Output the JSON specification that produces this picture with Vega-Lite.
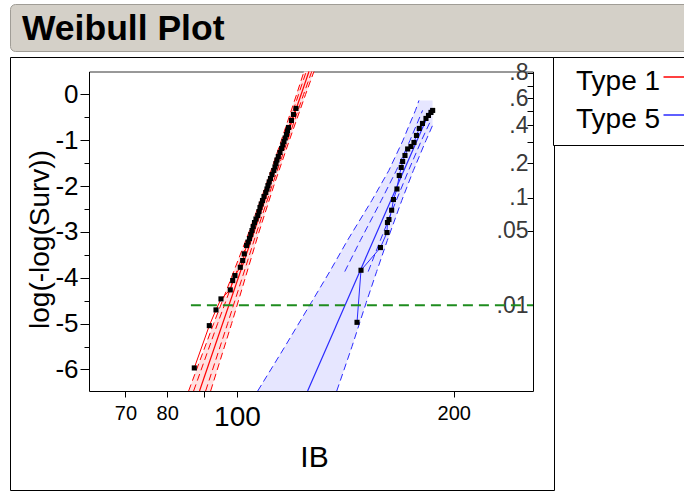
{
  "$schema": "https://vega.github.io/schema/vega-lite/v6.json",
  "padding": {"left": 9, "top": 3, "right": 0, "bottom": 0},
  "background": "white",
  "spacing": 6,
  "bounds": "flush",
  "resolve": {"legend": {"color": "independent"}},
  "datasets": {
    "pts": [
      {"type": "Type 1", "IB": 87.24, "v": -5.967}, {"type": "Type 1", "IB": 91.53, "v": -5.044},
      {"type": "Type 1", "IB": 93.51, "v": -4.701}, {"type": "Type 1", "IB": 95.01, "v": -4.461},
      {"type": "Type 1", "IB": 97.88, "v": -4.264}, {"type": "Type 1", "IB": 98.63, "v": -4.061},
      {"type": "Type 1", "IB": 99.36, "v": -3.952}, {"type": "Type 1", "IB": 101.06, "v": -3.771},
      {"type": "Type 1", "IB": 101.84, "v": -3.624}, {"type": "Type 1", "IB": 102.36, "v": -3.478},
      {"type": "Type 1", "IB": 103.12, "v": -3.297}, {"type": "Type 1", "IB": 103.58, "v": -3.221},
      {"type": "Type 1", "IB": 104.08, "v": -3.144}, {"type": "Type 1", "IB": 104.51, "v": -3.057},
      {"type": "Type 1", "IB": 104.92, "v": -2.969}, {"type": "Type 1", "IB": 105.32, "v": -2.882},
      {"type": "Type 1", "IB": 105.76, "v": -2.795}, {"type": "Type 1", "IB": 106.26, "v": -2.718},
      {"type": "Type 1", "IB": 106.88, "v": -2.642}, {"type": "Type 1", "IB": 107.29, "v": -2.555},
      {"type": "Type 1", "IB": 107.63, "v": -2.467}, {"type": "Type 1", "IB": 108.05, "v": -2.391},
      {"type": "Type 1", "IB": 108.5, "v": -2.314}, {"type": "Type 1", "IB": 109.02, "v": -2.227},
      {"type": "Type 1", "IB": 109.65, "v": -2.14}, {"type": "Type 1", "IB": 110.07, "v": -2.063},
      {"type": "Type 1", "IB": 110.42, "v": -1.987}, {"type": "Type 1", "IB": 110.85, "v": -1.91},
      {"type": "Type 1", "IB": 111.31, "v": -1.834}, {"type": "Type 1", "IB": 111.85, "v": -1.747},
      {"type": "Type 1", "IB": 112.49, "v": -1.659}, {"type": "Type 1", "IB": 112.92, "v": -1.583},
      {"type": "Type 1", "IB": 113.29, "v": -1.507}, {"type": "Type 1", "IB": 113.65, "v": -1.43},
      {"type": "Type 1", "IB": 114.12, "v": -1.354}, {"type": "Type 1", "IB": 114.74, "v": -1.266},
      {"type": "Type 1", "IB": 115.33, "v": -1.179}, {"type": "Type 1", "IB": 115.77, "v": -1.103},
      {"type": "Type 1", "IB": 116.22, "v": -1.026}, {"type": "Type 1", "IB": 116.67, "v": -0.95},
      {"type": "Type 1", "IB": 117.15, "v": -0.873}, {"type": "Type 1", "IB": 117.53, "v": -0.797},
      {"type": "Type 1", "IB": 117.9, "v": -0.721}, {"type": "Type 1", "IB": 119.04, "v": -0.568},
      {"type": "Type 1", "IB": 119.81, "v": -0.437}, {"type": "Type 1", "IB": 120.77, "v": -0.306},
      {"type": "Type 5", "IB": 146.79, "v": -4.972}, {"type": "Type 5", "IB": 148.68, "v": -3.836},
      {"type": "Type 5", "IB": 158.22, "v": -3.341}, {"type": "Type 5", "IB": 161.54, "v": -3.013},
      {"type": "Type 5", "IB": 161.8, "v": -2.795}, {"type": "Type 5", "IB": 162.58, "v": -2.729},
      {"type": "Type 5", "IB": 163.99, "v": -2.526}, {"type": "Type 5", "IB": 164.94, "v": -2.293},
      {"type": "Type 5", "IB": 166.79, "v": -2.063}, {"type": "Type 5", "IB": 168.02, "v": -1.769},
      {"type": "Type 5", "IB": 169.1, "v": -1.594}, {"type": "Type 5", "IB": 169.86, "v": -1.463},
      {"type": "Type 5", "IB": 171.12, "v": -1.332}, {"type": "Type 5", "IB": 172.6, "v": -1.19},
      {"type": "Type 5", "IB": 174.43, "v": -1.135}, {"type": "Type 5", "IB": 176.11, "v": -1.048},
      {"type": "Type 5", "IB": 177.53, "v": -0.895}, {"type": "Type 5", "IB": 179.13, "v": -0.742},
      {"type": "Type 5", "IB": 180.97, "v": -0.633}, {"type": "Type 5", "IB": 183.01, "v": -0.524},
      {"type": "Type 5", "IB": 184.48, "v": -0.459}, {"type": "Type 5", "IB": 185.96, "v": -0.393},
      {"type": "Type 5", "IB": 186.97, "v": -0.349}
    ],
    "fits": [
      {"type": "Type 1", "IB": 88.71, "v": -6.47}, {"type": "Type 1", "IB": 125.89, "v": 0.5},
      {"type": "Type 5", "IB": 125.35, "v": -6.47}, {"type": "Type 5", "IB": 185.96, "v": -0.306}
    ],
    "areas": [
      {"type": "Type 1", "v": -6.47, "lo": 85.67, "hi": 91.92},
      {"type": "Type 1", "v": -5, "lo": 92.8, "hi": 98.3},
      {"type": "Type 1", "v": -4, "lo": 98.21, "hi": 102.7},
      {"type": "Type 1", "v": -3, "lo": 103.92, "hi": 107.3},
      {"type": "Type 1", "v": -2, "lo": 109.62, "hi": 112.46},
      {"type": "Type 1", "v": -1, "lo": 115.26, "hi": 118.24},
      {"type": "Type 1", "v": 0, "lo": 121.0, "hi": 124.53},
      {"type": "Type 1", "v": 0.5, "lo": 123.9, "hi": 127.9},
      {"type": "Type 5", "v": -6.47, "lo": 106.85, "hi": 137.58},
      {"type": "Type 5", "v": -5.502, "lo": 116.56, "hi": 144.44},
      {"type": "Type 5", "v": -4.541, "lo": 126.81, "hi": 151.18},
      {"type": "Type 5", "v": -3.865, "lo": 134.53, "hi": 156.3},
      {"type": "Type 5", "v": -3.188, "lo": 142.33, "hi": 161.7},
      {"type": "Type 5", "v": -2.314, "lo": 153.9, "hi": 169.37},
      {"type": "Type 5", "v": -1.659, "lo": 162.53, "hi": 175.78},
      {"type": "Type 5", "v": -1.004, "lo": 170.02, "hi": 183.01},
      {"type": "Type 5", "v": -0.677, "lo": 173.38, "hi": 186.91},
      {"type": "Type 5", "v": -0.349, "lo": 176.96, "hi": 186.91},
      {"type": "Type 5", "v": -0.131, "lo": 178.95, "hi": 186.91}
    ],
    "bands": [
      {"type": "Type 1", "side": "olo", "IB": 85.67, "v": -6.47}, {"type": "Type 1", "side": "olo", "IB": 92.8, "v": -5},
      {"type": "Type 1", "side": "olo", "IB": 98.21, "v": -4}, {"type": "Type 1", "side": "olo", "IB": 103.92, "v": -3},
      {"type": "Type 1", "side": "olo", "IB": 109.62, "v": -2}, {"type": "Type 1", "side": "olo", "IB": 115.26, "v": -1},
      {"type": "Type 1", "side": "olo", "IB": 121.0, "v": 0}, {"type": "Type 1", "side": "olo", "IB": 123.9, "v": 0.5},
      {"type": "Type 1", "side": "ohi", "IB": 91.92, "v": -6.47}, {"type": "Type 1", "side": "ohi", "IB": 98.3, "v": -5},
      {"type": "Type 1", "side": "ohi", "IB": 102.7, "v": -4}, {"type": "Type 1", "side": "ohi", "IB": 107.3, "v": -3},
      {"type": "Type 1", "side": "ohi", "IB": 112.46, "v": -2}, {"type": "Type 1", "side": "ohi", "IB": 118.24, "v": -1},
      {"type": "Type 1", "side": "ohi", "IB": 124.53, "v": 0}, {"type": "Type 1", "side": "ohi", "IB": 127.9, "v": 0.5},
      {"type": "Type 1", "side": "ilo", "IB": 87.05, "v": -6.47}, {"type": "Type 1", "side": "ilo", "IB": 93.99, "v": -5},
      {"type": "Type 1", "side": "ilo", "IB": 99.18, "v": -4}, {"type": "Type 1", "side": "ilo", "IB": 104.67, "v": -3},
      {"type": "Type 1", "side": "ilo", "IB": 110.25, "v": -2}, {"type": "Type 1", "side": "ilo", "IB": 115.92, "v": -1},
      {"type": "Type 1", "side": "ilo", "IB": 121.77, "v": 0}, {"type": "Type 1", "side": "ilo", "IB": 124.8, "v": 0.5},
      {"type": "Type 1", "side": "ihi", "IB": 90.46, "v": -6.47}, {"type": "Type 1", "side": "ihi", "IB": 97.05, "v": -5},
      {"type": "Type 1", "side": "ihi", "IB": 101.69, "v": -4}, {"type": "Type 1", "side": "ihi", "IB": 106.53, "v": -3},
      {"type": "Type 1", "side": "ihi", "IB": 111.81, "v": -2}, {"type": "Type 1", "side": "ihi", "IB": 117.56, "v": -1},
      {"type": "Type 1", "side": "ihi", "IB": 123.74, "v": 0}, {"type": "Type 1", "side": "ihi", "IB": 127.0, "v": 0.5},
      {"type": "Type 5", "side": "olo", "IB": 106.85, "v": -6.47}, {"type": "Type 5", "side": "olo", "IB": 116.56, "v": -5.502},
      {"type": "Type 5", "side": "olo", "IB": 126.81, "v": -4.541}, {"type": "Type 5", "side": "olo", "IB": 134.53, "v": -3.865},
      {"type": "Type 5", "side": "olo", "IB": 142.33, "v": -3.188}, {"type": "Type 5", "side": "olo", "IB": 153.9, "v": -2.314},
      {"type": "Type 5", "side": "olo", "IB": 162.53, "v": -1.659}, {"type": "Type 5", "side": "olo", "IB": 170.02, "v": -1.004},
      {"type": "Type 5", "side": "olo", "IB": 173.38, "v": -0.677}, {"type": "Type 5", "side": "olo", "IB": 176.96, "v": -0.349},
      {"type": "Type 5", "side": "olo", "IB": 178.95, "v": -0.131},
      {"type": "Type 5", "side": "ohi", "IB": 137.58, "v": -6.47}, {"type": "Type 5", "side": "ohi", "IB": 144.44, "v": -5.502},
      {"type": "Type 5", "side": "ohi", "IB": 151.18, "v": -4.541}, {"type": "Type 5", "side": "ohi", "IB": 156.3, "v": -3.865},
      {"type": "Type 5", "side": "ohi", "IB": 161.7, "v": -3.188}, {"type": "Type 5", "side": "ohi", "IB": 169.37, "v": -2.314},
      {"type": "Type 5", "side": "ohi", "IB": 175.78, "v": -1.659}, {"type": "Type 5", "side": "ohi", "IB": 183.01, "v": -1.004},
      {"type": "Type 5", "side": "ohi", "IB": 186.91, "v": -0.677},
      {"type": "Type 5", "side": "ilo", "IB": 141.15, "v": -3.865},
      {"type": "Type 5", "side": "ilo", "IB": 148.34, "v": -3.188}, {"type": "Type 5", "side": "ilo", "IB": 158.62, "v": -2.314},
      {"type": "Type 5", "side": "ilo", "IB": 166.47, "v": -1.659}, {"type": "Type 5", "side": "ilo", "IB": 173.88, "v": -1.004},
      {"type": "Type 5", "side": "ilo", "IB": 181.03, "v": -0.349},
      {"type": "Type 5", "side": "ihi", "IB": 152.14, "v": -3.865},
      {"type": "Type 5", "side": "ihi", "IB": 158.12, "v": -3.188}, {"type": "Type 5", "side": "ihi", "IB": 166.42, "v": -2.314},
      {"type": "Type 5", "side": "ihi", "IB": 173.1, "v": -1.659}, {"type": "Type 5", "side": "ihi", "IB": 180.39, "v": -1.004},
      {"type": "Type 5", "side": "ihi", "IB": 185.84, "v": -0.568}
    ],
    "ref": [
      {"IB": 86.3, "v": -4.6}, {"IB": 257.7, "v": -4.6}
    ],
    "head": [{"t": "Weibull Plot"}]
  },
  "vconcat": [
    {
      "width": 690,
      "height": 47,
      "data": {"name": "head"},
      "view": {"fill": "#d4d0c8", "stroke": "#a09d96", "cornerRadius": 5},
      "mark": {"type": "text", "align": "left", "baseline": "middle", "font": "Liberation Sans", "fontWeight": "bold", "fontSize": 35.5, "color": "black"},
      "encoding": {
        "text": {"field": "t"},
        "x": {"value": 12},
        "y": {"value": 25}
      }
    },
    {
      "width": 544,
      "height": 433,
      "view": {"stroke": "black", "strokeWidth": 1, "fill": "white"},
      "resolve": {"axis": {"x": "independent", "y": "independent"}},
      "layer": [
        {
          "data": {"name": "areas"},
          "transform": [{"filter": "datum.type == 'Type 1'"}],
          "mark": {"type": "area", "orient": "horizontal", "color": "#ffe0e0", "opacity": 1},
          "encoding": {
            "y": {"field": "v", "type": "quantitative", "scale": {"domain": [-6.47, 0.5], "range": [334, 14.5], "nice": false, "zero": false}, "axis": null},
            "x": {"field": "lo", "type": "quantitative", "scale": {"type": "log", "domain": [62.3, 257.7], "range": [79, 523], "nice": false}, "axis": null},
            "x2": {"field": "hi"}
          }
        },
        {
          "data": {"name": "areas"},
          "transform": [{"filter": "datum.type == 'Type 5'"}],
          "mark": {"type": "area", "orient": "horizontal", "color": "#e6e6ff", "opacity": 1},
          "encoding": {
            "y": {"field": "v", "type": "quantitative", "scale": {"domain": [-6.47, 0.5], "range": [334, 14.5], "nice": false, "zero": false}, "axis": null},
            "x": {"field": "lo", "type": "quantitative", "scale": {"type": "log", "domain": [62.3, 257.7], "range": [79, 523], "nice": false}, "axis": null},
            "x2": {"field": "hi"}
          }
        },
        {
          "data": {"name": "bands"},
          "transform": [{"filter": "datum.type == 'Type 1'"}],
          "mark": {"type": "line", "strokeWidth": 1, "strokeDash": [7, 4], "color": "#ff0000"},
          "encoding": {
            "y": {"field": "v", "type": "quantitative", "scale": {"domain": [-6.47, 0.5], "range": [334, 14.5], "nice": false, "zero": false}, "axis": null},
            "x": {"field": "IB", "type": "quantitative", "scale": {"type": "log", "domain": [62.3, 257.7], "range": [79, 523], "nice": false}, "axis": null},
            "detail": {"field": "side"}
          }
        },
        {
          "data": {"name": "bands"},
          "transform": [{"filter": "datum.type == 'Type 5'"}],
          "mark": {"type": "line", "strokeWidth": 1, "strokeDash": [7, 4], "color": "#2a2aff"},
          "encoding": {
            "y": {"field": "v", "type": "quantitative", "scale": {"domain": [-6.47, 0.5], "range": [334, 14.5], "nice": false, "zero": false}, "axis": null},
            "x": {"field": "IB", "type": "quantitative", "scale": {"type": "log", "domain": [62.3, 257.7], "range": [79, 523], "nice": false}, "axis": null},
            "detail": {"field": "side"}
          }
        },
        {
          "data": {"name": "fits"},
          "mark": {"type": "line", "strokeWidth": 1.2},
          "encoding": {
            "y": {"field": "v", "type": "quantitative", "scale": {"domain": [-6.47, 0.5], "range": [334, 14.5], "nice": false, "zero": false}, "axis": null},
            "x": {"field": "IB", "type": "quantitative", "scale": {"type": "log", "domain": [62.3, 257.7], "range": [79, 523], "nice": false}, "axis": null},
            "color": {
              "field": "type", "type": "nominal",
              "scale": {"domain": ["Type 1", "Type 5"], "range": ["#ff0000", "#2a2aff"]},
              "legend": {
                "orient": "none", "legendX": 543, "legendY": 0, "title": null,
                "symbolType": "M 17.1,-1 L 23,-1", "symbolSize": 100, "symbolStrokeWidth": 1.5,
                "labelFont": "Liberation Sans", "labelFontSize": 28, "labelColor": "black", "labelOffset": -16,
                "labelBaseline": "middle", "labelLimit": 400,
                "padding": 11, "rowPadding": 10, "strokeColor": "black", "fillColor": "white"
              }
            }
          }
        },
        {
          "data": {"name": "pts"},
          "transform": [{"filter": "datum.type == 'Type 1'"}],
          "mark": {"type": "line", "strokeWidth": 1, "color": "#ff0000"},
          "encoding": {
            "y": {"field": "v", "type": "quantitative", "scale": {"domain": [-6.47, 0.5], "range": [334, 14.5], "nice": false, "zero": false}, "axis": null},
            "x": {"field": "IB", "type": "quantitative", "scale": {"type": "log", "domain": [62.3, 257.7], "range": [79, 523], "nice": false}, "axis": null}
          }
        },
        {
          "data": {"name": "pts"},
          "transform": [{"filter": "datum.type == 'Type 5'"}],
          "mark": {"type": "line", "strokeWidth": 1, "color": "#2a2aff"},
          "encoding": {
            "y": {"field": "v", "type": "quantitative", "scale": {"domain": [-6.47, 0.5], "range": [334, 14.5], "nice": false, "zero": false}, "axis": null},
            "x": {"field": "IB", "type": "quantitative", "scale": {"type": "log", "domain": [62.3, 257.7], "range": [79, 523], "nice": false}, "axis": null}
          }
        },
        {
          "data": {"name": "pts"},
          "mark": {"type": "point", "shape": "square", "filled": true, "size": 26, "color": "black", "opacity": 1},
          "encoding": {
            "y": {
              "field": "v", "type": "quantitative",
              "scale": {"domain": [-6.47, 0.5], "range": [334, 14.5], "nice": false, "zero": false},
              "axis": {
                "orient": "left", "offset": -79, "grid": false,
                "values": [0, -0.5, -1, -1.5, -2, -2.5, -3, -3.5, -4, -4.5, -5, -5.5, -6],
                "labelExpr": "datum.value % 1 == 0 ? '' + datum.value : ''",
                "tickSize": {"condition": {"test": "datum.value % 1 == 0", "value": 9}, "value": 5},
                "labelFontSize": 26, "labelPadding": 2, "labelOverlap": false, "labelFlush": false,
                "title": "log(-log(Surv))", "titleFontSize": 28, "titleFontWeight": "normal",
                "titleX": -49, "titleY": 182, "titleAngle": -90, "titleAlign": "center", "titleBaseline": "middle"
              }
            },
            "x": {
              "field": "IB", "type": "quantitative",
              "scale": {"type": "log", "domain": [62.3, 257.7], "range": [79, 523], "nice": false},
              "axis": {
                "orient": "bottom", "offset": -99, "grid": false,
                "values": [70, 80, 90, 100, 200],
                "labelExpr": "datum.value == 90 ? '' : datum.label",
                "labelFontSize": {"condition": {"test": "datum.value == 100", "value": 28}, "value": 20},
                "tickSize": 6, "labelPadding": 6, "labelOverlap": false, "labelFlush": false,
                "title": "IB", "titleFontSize": 30, "titleFontWeight": "normal",
                "titleX": 304, "titleY": 51, "titleBaseline": "top", "titleAlign": "center"
              }
            }
          }
        },
        {
          "data": {"name": "ref"},
          "mark": {"type": "line", "strokeWidth": 2, "strokeDash": [10, 6], "color": "#1e8c1e"},
          "encoding": {
            "y": {
              "field": "v", "type": "quantitative",
              "scale": {"domain": [-6.47, 0.5], "range": [334, 14.5], "nice": false, "zero": false},
              "axis": {
                "orient": "right", "offset": -21, "grid": false,
                "values": [0.476, 0.186, -0.087, -0.367, -0.672, -1.031, -1.5, -2.25, -2.97, -4.6],
                "labelExpr": "datum.value > 0.3 ? '.8' : datum.value > 0 ? '' : datum.value > -0.2 ? '.6' : datum.value > -0.5 ? '' : datum.value > -0.8 ? '.4' : datum.value > -1.2 ? '' : datum.value > -1.8 ? '.2' : datum.value > -2.6 ? '.1' : datum.value > -3.5 ? '.05' : '.01'",
                "tickSize": -6, "labelPadding": 1, "labelAlign": "right", "labelBaseline": "middle",
                "labelFontSize": 23, "labelColor": "#3a3a3a", "labelOverlap": false, "labelFlush": false,
                "title": null
              }
            },
            "x": {
              "field": "IB", "type": "quantitative",
              "scale": {"type": "log", "domain": [62.3, 257.7], "range": [79, 523], "nice": false},
              "axis": {"orient": "top", "offset": -14.5, "grid": false, "ticks": false, "labels": false, "title": null, "domainColor": "#333333"}
            }
          }
        }
      ]
    }
  ],
  "config": {
    "font": "Liberation Sans",
    "axis": {
      "labelFont": "Liberation Sans", "titleFont": "Liberation Sans",
      "labelColor": "black", "titleColor": "black",
      "domainColor": "black", "tickColor": "black", "domainWidth": 1, "tickWidth": 1, "grid": false
    }
  }
}
